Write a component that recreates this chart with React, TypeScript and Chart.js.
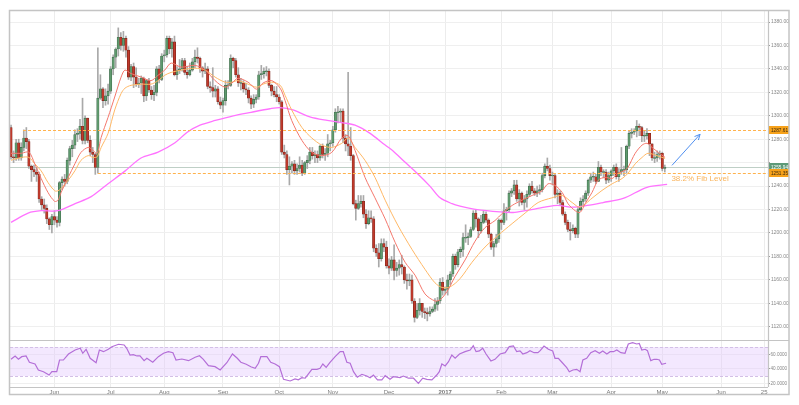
import React, { useEffect, useRef } from 'react';
import { Chart, registerables } from 'chart.js';
Chart.register(...registerables);

// ---- data (XAU/USD daily, weekday index 0 = 9 May 2016) ----
const firstOpen = 1290;
const closes = [
  1265,1264,1277,1264,1273,1281,1278,1257,1254,1252,1250,1229,1224,1221,1212,1207,1214,
  1211,1209,1243,1246,1244,1262,1272,1275,1284,1285,1291,1279,1298,1279,1269,1267,1256,1315,1323,1313,1317,1321,
  1340,1350,1357,1367,1360,1366,1356,1333,1342,1333,1327,1328,1332,1317,1330,1322,1318,1320,1340,1331,1351,
  1352,1366,1357,1363,1335,1339,1340,1347,1337,1335,1339,1346,1350,1349,1341,1338,1340,1325,1324,1321,1323,1312,1309,
  1313,1326,1326,1349,1347,1335,1328,1328,1323,1322,1315,1310,1314,1316,1335,1336,1338,1338,1326,1321,1318,1316,
  1312,1269,1267,1254,1257,1259,1253,1255,1258,1251,1260,1262,1269,1266,1267,1264,1274,1267,1268,1276,1277,
  1288,1303,1303,1304,1281,1276,1274,1266,1225,1221,1225,1227,1216,1208,1213,1212,1187,1183,1178,1191,1188,1172,
  1170,1177,1168,1170,1173,1171,1160,1159,1160,1142,1128,1134,1140,1133,1132,1131,1133,1135,1139,1142,1158,1151,
  1152,1160,1165,1180,1173,1184,1186,1196,1196,1197,1203,1217,1212,1202,1209,1216,1211,1199,1188,1191,1195,1211,
  1209,1219,1220,1234,1236,1241,1229,1234,1226,1229,1233,1240,1236,1234,1236,1237,1249,1257,1255,1249,
  1249,1233,1234,1226,1216,1209,1203,1202,1204,1199,1220,1227,1229,1234,1245,1248,1248,1244,1256,1252,1252,1245,1249,
  1253,1256,1248,1252,1254,1254,1274,1285,1286,1287,1291,1290,1283,1283,1285,1276,1264,1264,1267,1268,
  1255,1256,
];
const highs = [
  1292,1270,1280,1280,1277,1288,1290,1280,1258,1258,1256,1252,1231,1229,1224,1213,1216,
  1219,1214,1244,1248,1250,1264,1274,1279,1288,1289,1297,1315,1300,1294,1283,1273,1268,1358,1335,1324,1323,1327,
  1342,1352,1358,1375,1371,1372,1368,1359,1344,1345,1341,1332,1334,1333,1331,1332,1325,1326,1342,1343,1353,
  1356,1368,1368,1366,1368,1342,1348,1349,1349,1342,1345,1349,1356,1358,1350,1342,1345,1342,1329,1341,1326,1325,1316,
  1315,1330,1330,1352,1350,1349,1341,1332,1330,1328,1324,1317,1318,1318,1338,1343,1341,1342,1340,1327,1325,1325,
  1318,1313,1275,1270,1265,1261,1262,1259,1265,1262,1261,1266,1273,1273,1270,1270,1275,1276,1272,1284,1279,
  1291,1306,1308,1306,1306,1284,1337,1290,1267,1228,1232,1232,1232,1220,1219,1219,1214,1190,1191,1195,1195,1193,
  1178,1180,1190,1175,1177,1181,1172,1165,1165,1164,1144,1140,1144,1140,1136,1136,1137,1137,1144,1145,1161,1162,
  1154,1164,1167,1182,1182,1186,1188,1200,1207,1200,1205,1219,1220,1213,1215,1219,1218,1212,1200,1193,1199,1212,
  1212,1225,1222,1236,1238,1245,1245,1237,1235,1232,1236,1242,1244,1238,1240,1241,1251,1259,1264,1258,
  1252,1251,1237,1236,1228,1218,1211,1209,1207,1205,1222,1230,1232,1236,1246,1251,1252,1250,1261,1258,1254,1254,1252,
  1254,1258,1259,1255,1273,1257,1275,1287,1289,1289,1296,1293,1291,1287,1289,1284,1276,1269,1270,1270,
  1269,1258,
];
const lows = [
  1263,1260,1262,1262,1262,1270,1272,1255,1244,1248,1244,1226,1220,1217,1208,1203,1200,
  1207,1205,1206,1237,1240,1242,1258,1265,1272,1278,1280,1276,1276,1277,1266,1260,1250,1251,1314,1307,1309,1310,
  1319,1335,1341,1351,1356,1355,1350,1331,1330,1324,1325,1324,1319,1312,1313,1320,1314,1313,1317,1328,1330,
  1346,1350,1353,1350,1334,1331,1336,1338,1335,1332,1334,1338,1341,1345,1337,1333,1336,1323,1320,1316,1316,1310,1306,
  1303,1309,1323,1325,1341,1333,1325,1322,1320,1318,1311,1306,1307,1311,1314,1331,1332,1334,1324,1317,1316,1312,
  1310,1267,1264,1250,1241,1251,1250,1250,1252,1249,1250,1255,1259,1263,1260,1260,1262,1264,1262,1265,1270,
  1274,1286,1294,1295,1277,1270,1266,1262,1224,1211,1220,1222,1213,1204,1207,1209,1184,1180,1171,1176,1184,1170,
  1165,1168,1160,1163,1164,1165,1157,1152,1155,1140,1124,1127,1130,1128,1127,1125,1129,1132,1133,1134,1140,1147,
  1148,1147,1156,1163,1169,1171,1179,1180,1192,1190,1196,1202,1205,1196,1200,1208,1209,1196,1186,1180,1188,1192,
  1203,1207,1211,1218,1231,1233,1227,1223,1224,1220,1222,1231,1234,1232,1231,1233,1235,1247,1253,1245,
  1241,1230,1225,1224,1215,1207,1201,1194,1200,1196,1196,1219,1223,1227,1232,1243,1244,1242,1246,1249,1247,1242,1243,
  1244,1249,1246,1244,1250,1249,1251,1272,1281,1284,1282,1283,1278,1278,1280,1266,1262,1260,1261,1263,
  1253,1252,
];

// moving averages (weekday index, value)
const fastMaIdx = [0,4,7,9.3,11.8,14.5,17.1,18.4,19.6,22.4,25,27.4,30.2,32.1,33.7,35.3,38,40.6,43.1,44.6,47,51,54.8,57.6,60.2,62.7,66.6,72,76,79.9,83.8,86.5,88.9,92.8,96.2,98.7,102.1,105.4,107.3,109.9,113.9,117.8,121.7,125.6,129.5,132,134.7,138.6,142.5,146.5,150.4,154.3,158.2,162.1,166,168,170.7,173.9,177.8,181.7,185.6,189.5,192.3,196.2,200.1,204,207.9,210.3,213,215.8,218.1,220.9,222.8,224.8,227.5,229.9,232.6,235.4,237.7,240.4,241.6,244.4,247.1,249,251,253.4,256.1];
const fastMaVal = [1268,1268,1269,1259,1246.5,1234.5,1227,1228,1234.5,1247.5,1259,1268.8,1273,1270.5,1268,1281.6,1298.7,1316,1333,1339,1336,1333,1330,1334.6,1339,1345,1341.5,1343,1339,1330,1324.4,1328,1332,1328.7,1322.7,1328,1330,1323.5,1313,1296,1279,1268.8,1266,1268.8,1281,1283,1270.5,1247.5,1230,1212,1192,1175,1164,1148,1142,1143,1150,1163,1177,1193,1204.6,1210.6,1216.6,1223.5,1228,1232,1236,1242,1240.6,1234.6,1225,1219,1217.5,1225,1234.6,1245,1247.5,1246.5,1251,1253.4,1256,1268,1275,1276.5,1273,1268.8,1264.5];
const slowMaIdx = [0,4,7,9.3,11.8,14.5,17.1,18.4,19.6,22.4,25,27.4,30.2,32.1,33.7,35.3,38,40.6,43.1,44.6,47,51,54.8,57.6,60.2,62.7,66.6,72,76,79.9,83.8,86.5,88.9,92.8,96.2,98.7,102.1,105.4,107.3,109.9,113.9,117.8,121.7,125.6,129.5,132,134.7,138.6,142.5,146.5,151.6,157,162.1,166,168.8,171.9,175.8,180.5,185.6,190.7,196.2,201.3,206.4,211.8,215.8,219.7,222.8,227.5,231.4,235.4,239.3,241.6,244.4,247.1,249.4,252.9,256.1];
const slowMaVal = [1262,1264.5,1264.5,1259,1253,1243,1236,1236,1238,1245,1253,1262,1266,1264.5,1265,1273,1285,1305,1319,1323.5,1326,1327,1327,1330,1334.6,1337,1339,1340.6,1339,1333,1328.7,1328.7,1330,1327,1324.4,1327,1328.7,1326,1317.5,1305,1290,1281,1275,1273,1276.5,1281,1273,1262,1247.5,1228,1206,1186,1169,1157.5,1153.5,1154,1161,1175,1188,1198,1208,1217,1226,1230,1232,1226,1222,1229.7,1236.3,1242,1246.5,1251,1259,1264.5,1268,1266,1263.6];
const longMaIdx = [0,6.7,11.8,18.4,25.1,31.4,38,44.7,50.9,57.6,64.2,69,74,80,87,94,101.4,105.4,110.4,117,123.8,130,134.7,140.6,146.5,149.6,154,159,164,168,172.7,175.8,182.5,191.5,196.6,201.3,209,214,220,225.6,231.8,239.7,249,256.9];
const longMaVal = [1209,1217,1219,1219,1225,1231,1242,1253,1264,1269,1277,1286,1292,1296,1300,1303,1306,1307,1305,1299,1296,1294,1292,1285,1275,1270,1261,1251,1240,1230,1225,1223,1220,1218,1217.5,1219,1222,1223.5,1222,1223.5,1226,1229.5,1239,1241.5];

// RSI
const rsiIdx = [0,1.6,2.9,4.2,5.9,7.2,9.4,10.7,12.7,14.9,16,17.9,19,20.5,22.5,25.1,27.1,28.1,29.4,31,33.3,34.6,36.2,38.1,39.5,42.1,44.3,45.3,46.6,47.9,49.3,50.5,52.1,53.2,55.5,57.7,59.7,61.6,63.4,64.6,66.9,69.5,72.1,73.8,75.3,77.3,79.9,81.9,84.5,86.7,88.6,90,92.1,93.9,95.6,96.9,97.8,100.2,101.7,103.4,105.1,106.7,109.3,111.2,112.5,113.9,115.2,117.8,119.8,121,122.1,123.4,124.9,126.9,128.9,130.1,131.5,132.8,134.1,135.6,137.4,139.3,140.6,141.9,143.5,145.2,146.5,148.4,149.7,152.3,153.6,155.6,157.6,159.5,161.2,162.8,164.8,166.7,167.7,168.7,170,171.3,172.6,173.9,175.6,177.8,179.8,181,182.1,183.4,184.7,186,187.9,189.5,191.5,193.5,195.1,196.7,198,199.3,200.4,202,203.2,204.8,206.3,207.2,208.7,210.4,212.1,213,214.3,215.7,217.6,218.6,220,221.5,222.8,223.9,225.4,227,228.7,230.4,231.7,233.3,234.6,235.9,237.2,238.8,240.4,241.7,243.4,245,246,247,248.3,249.2,250.5,251.8,252.9,253.9,254.8,256.5];
const rsiVal = [53.1,57.7,53.1,56.7,57.7,49,46.6,38.3,36,31.4,36,36,52.1,52.1,60.4,65.9,68.3,61.4,66.9,54.5,48.4,65.9,63.6,66.9,70.5,73.8,72.8,68.3,59,59.4,57.7,57.7,51.2,54.5,49,56.7,61.4,63.6,62.2,52.1,53.5,51.2,55.9,58,53.1,44.3,42.9,38.3,48.4,60.4,54.5,49,46.2,42.9,40.7,47.6,56.7,56.7,49,46.6,42.9,25.5,23.2,26,24.8,27.7,27,39.3,39.3,40.7,46.6,42,49,56.7,63.6,63.6,49,47.6,36,28.3,32.4,30,27.7,31.4,24.6,24.6,30.5,25.5,29.1,27.7,30,27,27,20,27,25.5,24.6,31.4,36,46.6,43.9,49.8,59,54.5,60.4,63.6,65.9,71.9,63.6,64.6,68.3,60.4,50.8,53.1,60.4,62.2,70.5,71.4,63.6,64.6,60.4,62.2,65,62.2,62.2,65,71.4,66.9,64.6,54.5,54.5,49,41.6,36,38.3,39.3,36,52.1,54.5,62.2,65,61.4,64.6,60.4,63.6,63.6,65.9,62.2,61.4,74.2,76,74.2,75,65.9,66.9,65,51.2,53.1,53.1,52.1,46.2,47.6];

const monthTickIdx = [17,39,60,83,105,126,148,170,192,212,235,255,278,294.9];
const monthTickLabels = ['Jun','Jul','Aug','Sep','Oct','Nov','Dec','2017','Feb','Mar','Apr','May','Jun','25'];
const priceTicks = [1120,1140,1160,1180,1200,1220,1240,1260,1280,1300,1320,1340,1360,1380];
const rsiTicks = [20,40,60];
const rsiBand = [30, 70];

const fibHigh = 1287.61;
const fibLow = 1251.35;
const currentPrice = 1255.94;
const fibHighStartIdx = 4.7;
const fibLowStartIdx = 34;
const fibText = '38.2% Fib Level';
const fibTextPos = { x: 269.8, y: 1246.4 };
const arrowFrom = { x: 258.8, y: 1257.7 };
const arrowTo = { x: 269.8, y: 1284.2 };

const FONT = "'Liberation Sans', Arial, sans-serif";

const overlayPlugin = {
  id: 'overlay',
  beforeDatasetsDraw(chart: any) {
    const { ctx, chartArea, scales } = chart;
    const r = scales.rsi;
    const yHi = r.getPixelForValue(rsiBand[1]);
    const yLo = r.getPixelForValue(rsiBand[0]);
    ctx.save();
    ctx.fillStyle = 'rgba(228, 204, 252, 0.45)';
    ctx.fillRect(chartArea.left, yHi, chartArea.right - chartArea.left, yLo - yHi);
    ctx.strokeStyle = '#d3bfe6';
    ctx.lineWidth = 1;
    ctx.setLineDash([3, 2]);
    [yHi, yLo].forEach((y: number) => {
      ctx.beginPath();
      ctx.moveTo(chartArea.left, Math.round(y) + 0.5);
      ctx.lineTo(chartArea.right, Math.round(y) + 0.5);
      ctx.stroke();
    });
    const s = scales.y;
    ctx.setLineDash([]);
    ctx.strokeStyle = '#bfcfc6';
    const yc = Math.round(s.getPixelForValue(currentPrice)) + 0.5;
    ctx.beginPath();
    ctx.moveTo(chartArea.left, yc);
    ctx.lineTo(chartArea.right, yc);
    ctx.stroke();
    ctx.restore();
  },
  afterDatasetsDraw(chart: any) {
    const { ctx, chartArea, scales } = chart;
    const s = scales.y;
    const x = scales.x;
    ctx.save();
    ctx.strokeStyle = '#ffb24d';
    ctx.lineWidth = 1;
    ctx.setLineDash([3, 2]);
    [[fibHigh, fibHighStartIdx], [fibLow, fibLowStartIdx]].forEach(([v, st]) => {
      const y = Math.round(s.getPixelForValue(v)) + 0.5;
      ctx.beginPath();
      ctx.moveTo(x.getPixelForValue(st), y);
      ctx.lineTo(chartArea.right, y);
      ctx.stroke();
    });
    ctx.setLineDash([]);
    ctx.fillStyle = '#f9b45c';
    ctx.font = `8px ${FONT}`;
    ctx.textAlign = 'center';
    ctx.textBaseline = 'middle';
    ctx.fillText(fibText, x.getPixelForValue(fibTextPos.x), s.getPixelForValue(fibTextPos.y));
    const x1 = x.getPixelForValue(arrowFrom.x), y1 = s.getPixelForValue(arrowFrom.y);
    const x2 = x.getPixelForValue(arrowTo.x), y2 = s.getPixelForValue(arrowTo.y);
    ctx.strokeStyle = '#4f8ff0';
    ctx.lineWidth = 1;
    ctx.beginPath();
    ctx.moveTo(x1, y1);
    ctx.lineTo(x2, y2);
    ctx.stroke();
    const ang = Math.atan2(y2 - y1, x2 - x1);
    const L = 6;
    ctx.beginPath();
    ctx.moveTo(x2 - L * Math.cos(ang - 0.45), y2 - L * Math.sin(ang - 0.45));
    ctx.lineTo(x2, y2);
    ctx.lineTo(x2 - L * Math.cos(ang + 0.45), y2 - L * Math.sin(ang + 0.45));
    ctx.stroke();
    ctx.restore();
  },
  afterDraw(chart: any) {
    const { ctx, chartArea, scales } = chart;
    const s = scales.y;
    const r = scales.rsi;
    ctx.save();
    const boxes: [number, string, string][] = [
      [fibHigh, '#f7a21b', '#3a2a10'],
      [currentPrice, '#5e9a78', '#ffffff'],
      [fibLow, '#f7a21b', '#3a2a10'],
    ];
    ctx.font = `5px ${FONT}`;
    ctx.textAlign = 'left';
    ctx.textBaseline = 'middle';
    boxes.forEach(([v, bg, fg]) => {
      const y = s.getPixelForValue(v);
      ctx.fillStyle = bg;
      ctx.fillRect(chartArea.right + 1, Math.round(y - 4), 20, 8);
      ctx.fillStyle = fg;
      ctx.fillText(v.toFixed(2), chartArea.right + 3, y + 0.5, 17);
    });
    const W = chart.width;
    ctx.strokeStyle = '#c4c4c4';
    ctx.lineWidth = 1.5;
    ctx.strokeRect(chartArea.left - 0.5, chartArea.top - 0.5, W - 10 - chartArea.left + 0.5, 395 - chartArea.top);
    ctx.lineWidth = 1.2;
    ctx.beginPath();
    ctx.moveTo(chartArea.left, Math.round(s.bottom) + 0.5);
    ctx.lineTo(W - 10, Math.round(s.bottom) + 0.5);
    ctx.moveTo(chartArea.left, Math.round(r.bottom) + 0.5);
    ctx.lineTo(chartArea.right, Math.round(r.bottom) + 0.5);
    ctx.moveTo(chartArea.right + 0.5, chartArea.top);
    ctx.lineTo(chartArea.right + 0.5, r.bottom);
    ctx.stroke();
    ctx.restore();
  },
};

export default function App() {
  const ref = useRef<HTMLCanvasElement | null>(null);
  useEffect(() => {
    document.body.style.margin = '0';
    const idx = closes.map((_, i) => i);
    const opens = closes.map((_, i) => (i === 0 ? firstOpen : closes[i - 1]));
    const wicks = idx.map((i) => ({
      x: i,
      y: [Math.min(lows[i], opens[i], closes[i]), Math.max(highs[i], opens[i], closes[i])],
    }));
    const bodies = idx.map((i) => {
      let lo = Math.min(opens[i], closes[i]);
      let hi = Math.max(opens[i], closes[i]);
      if (hi - lo < 0.8) { const m = (hi + lo) / 2; lo = m - 0.4; hi = m + 0.4; }
      return { x: i, y: [lo, hi] };
    });
    const up = idx.map((i) => closes[i] >= opens[i]);
    const toXY = (xs: number[], ys: number[]) => xs.map((v, i) => ({ x: v, y: ys[i] }));

    const chart = new Chart(ref.current as HTMLCanvasElement, {
      type: 'bar',
      data: {
        datasets: [
          {
            type: 'bar', data: wicks as any, yAxisID: 'y', backgroundColor: '#a9a9a9',
            barThickness: 1, grouped: false, order: 5,
          } as any,
          {
            type: 'bar', data: bodies as any, yAxisID: 'y',
            backgroundColor: up.map((u) => (u ? '#5f9a6e' : '#c0392b')),
            borderColor: up.map((u) => (u ? '#3e6b4b' : '#7e261c')),
            borderWidth: 0.6, borderSkipped: false,
            barThickness: 2.4, grouped: false, order: 4,
          } as any,
          {
            type: 'line', data: toXY(longMaIdx, longMaVal) as any, yAxisID: 'y',
            borderColor: '#ff73ff', borderWidth: 1.3, pointRadius: 0, tension: 0.3, order: 3,
          } as any,
          {
            type: 'line', data: toXY(slowMaIdx, slowMaVal) as any, yAxisID: 'y',
            borderColor: '#ffb866', borderWidth: 1, pointRadius: 0, tension: 0.3, order: 2,
          } as any,
          {
            type: 'line', data: toXY(fastMaIdx, fastMaVal) as any, yAxisID: 'y',
            borderColor: '#f4776c', borderWidth: 1, pointRadius: 0, tension: 0.3, order: 1,
          } as any,
          {
            type: 'line', data: toXY(rsiIdx, rsiVal) as any, yAxisID: 'rsi',
            borderColor: '#b46fd8', borderWidth: 1.2, pointRadius: 0, tension: 0, order: 1,
          } as any,
        ],
      },
      options: {
        animation: false,
        responsive: false,
        layout: { padding: { left: 10, right: 10, top: 11, bottom: 9 } },
        plugins: { legend: { display: false }, tooltip: { enabled: false } },
        scales: {
          x: {
            type: 'linear', min: -0.4, max: 296.4, offset: false,
            grid: { offset: false, color: '#ececec', drawTicks: false },
            border: { display: false },
            afterBuildTicks: (sc: any) => { sc.ticks = monthTickIdx.map((v) => ({ value: v })); },
            afterFit: (sc: any) => { sc.height = 9; },
            ticks: {
              autoSkip: false, maxRotation: 0, padding: 2, color: '#777',
              font: (c: any) => ({ size: 6, family: FONT, weight: monthTickLabels[c.index] === '2017' ? 'bold' : 'normal' }),
              callback: (_v: any, i: number) => monthTickLabels[i],
            },
          } as any,
          y: {
            type: 'linear', position: 'right', stack: 'panes', stackWeight: 329,
            min: 1108.7, max: 1389.4,
            grid: { color: '#efefef', tickLength: 2, tickColor: '#999' },
            border: { display: false },
            afterBuildTicks: (sc: any) => { sc.ticks = priceTicks.map((v) => ({ value: v })); },
            afterFit: (sc: any) => { sc.width = 21; },
            ticks: {
              padding: 1, color: '#888', font: { size: 5, family: FONT },
              callback: (v: any) => (Math.abs(v - currentPrice) < 6 ? '' : Number(v).toFixed(2)),
            },
          } as any,
          rsi: {
            type: 'linear', position: 'right', stack: 'panes', stackWeight: 47,
            min: 14.9, max: 79.7,
            grid: { color: '#efefef', tickLength: 2, tickColor: '#999' },
            border: { display: false },
            afterBuildTicks: (sc: any) => { sc.ticks = rsiTicks.map((v) => ({ value: v })); },
            afterFit: (sc: any) => { sc.width = 21; },
            ticks: {
              padding: 0.5, color: '#888', font: { size: 4.6, family: FONT },
              callback: (v: any) => Number(v).toFixed(4),
            },
          } as any,
        },
      },
      plugins: [overlayPlugin],
    });
    return () => chart.destroy();
  }, []);
  return (
    <div style={{ width: 799, height: 405, background: '#fff' }}>
      <canvas ref={ref} width={799} height={405} />
    </div>
  );
}
